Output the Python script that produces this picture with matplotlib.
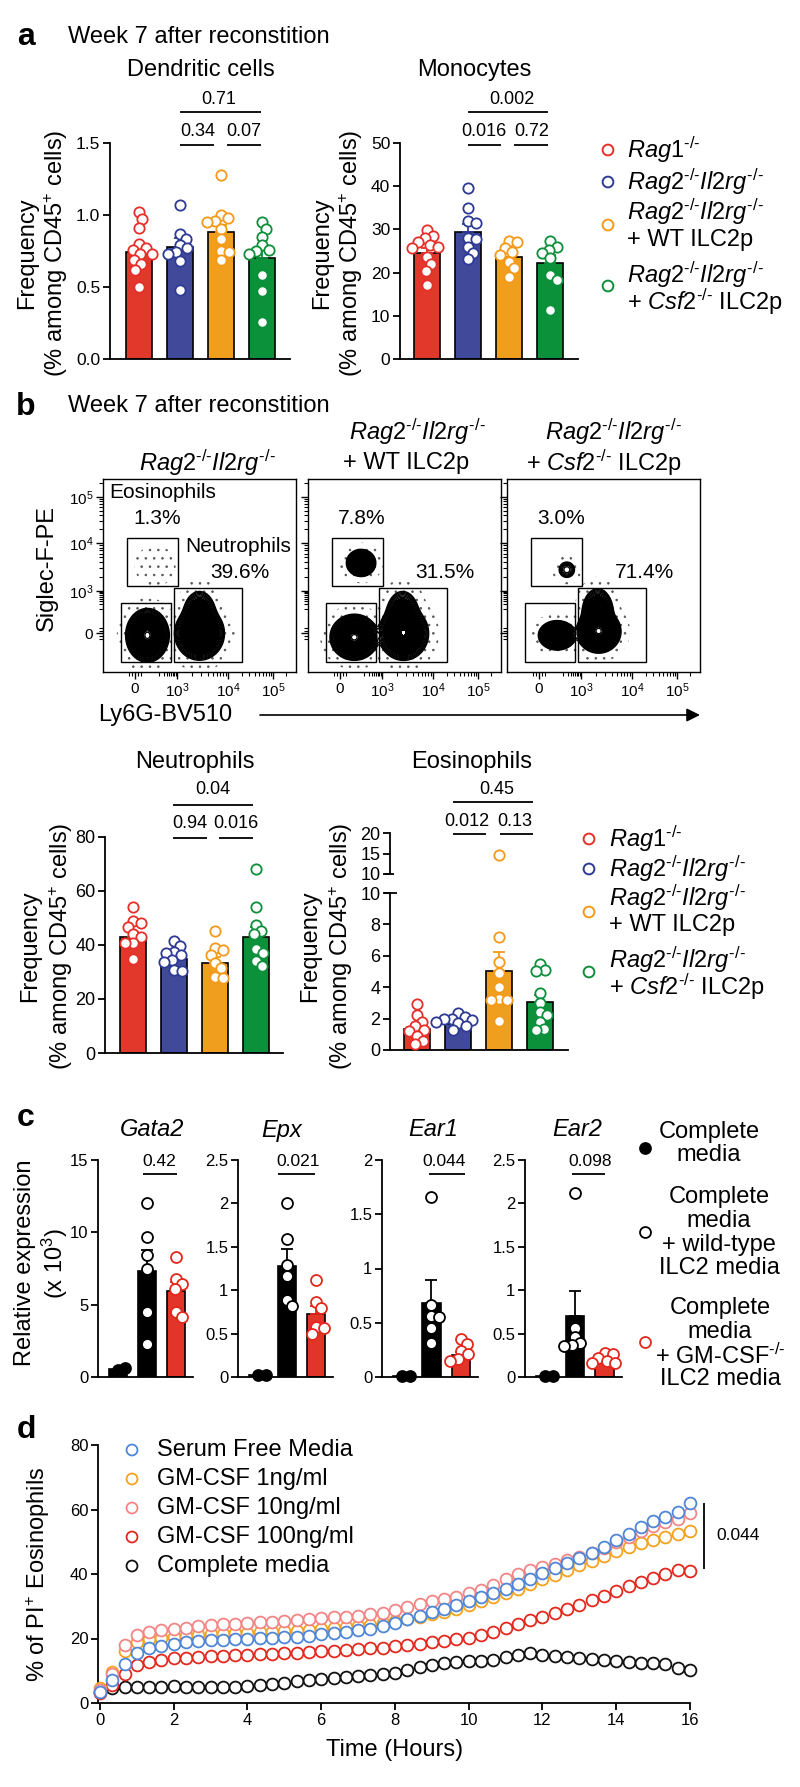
import numpy as np
import matplotlib
matplotlib.use("Agg")
import matplotlib.pyplot as plt
from matplotlib.patches import Rectangle

plt.rcParams["font.family"] = ["Liberation Sans", "DejaVu Sans"]
plt.rcParams["mathtext.fontset"] = "custom"
plt.rcParams["mathtext.rm"] = "Liberation Sans"
plt.rcParams["mathtext.it"] = "Liberation Sans:italic"
plt.rcParams["mathtext.bf"] = "Liberation Sans:bold"
plt.rcParams["hatch.linewidth"] = 0.6
plt.rcParams["hatch.color"] = "#555555"

# ---------------- data ----------------
FILL = ["#e2382b", "#414a9a", "#f09e1e", "#0a9139"]
EDGE = ["#e5302a", "#2e3a94", "#f39a1a", "#0e8f3b"]

# panel a
dc_pts = [[1.02, 0.97, 0.91, 0.80, 0.77, 0.76, 0.73, 0.73, 0.69, 0.66, 0.62, 0.50],
          [1.07, 0.87, 0.83, 0.79, 0.77, 0.74, 0.73, 0.68, 0.48],
          [1.28, 1.00, 0.98, 0.96, 0.95, 0.90, 0.83, 0.75, 0.74, 0.69],
          [0.95, 0.90, 0.85, 0.79, 0.76, 0.75, 0.73, 0.58, 0.47, 0.26]]
dc_mean = [0.745, 0.78, 0.88, 0.70]
dc_sem = [0.04, 0.06, 0.05, 0.065]

mono_pts = [[29.9, 28.5, 28.0, 27.0, 26.5, 26.0, 25.6, 23.7, 22.0, 20.4, 17.1],
            [39.5, 34.9, 32.0, 31.4, 28.0, 27.7, 26.0, 24.5, 23.1],
            [27.2, 27.0, 25.6, 24.8, 24.1, 22.5, 21.0, 18.9],
            [27.2, 26.0, 25.2, 24.5, 23.3, 19.4, 18.3, 11.3]]
mono_mean = [24.5, 29.5, 23.7, 22.2]
mono_sem = [1.1, 1.8, 1.0, 1.8]

# panel b
neut_pts = [[54.0, 48.9, 48.0, 46.5, 44.0, 43.0, 40.7, 40.7, 34.8],
            [41.4, 39.6, 37.4, 37.0, 36.3, 34.5, 33.7, 30.7, 30.4],
            [45.2, 38.9, 38.1, 36.3, 33.3, 31.5, 28.2, 27.7],
            [68.0, 54.0, 47.4, 45.2, 44.0, 38.5, 37.0, 34.0, 32.2]]
neut_mean = [43.0, 34.8, 33.5, 43.0]
neut_sem = [2.0, 1.3, 2.0, 3.6]

eos_pts = [[2.9, 2.2, 1.8, 1.5, 1.3, 1.2, 0.9, 0.6, 0.4],
           [2.35, 2.1, 2.0, 1.95, 1.9, 1.8, 1.7, 1.5, 1.3],
           [14.6, 7.2, 5.6, 4.9, 4.0, 3.25, 3.2, 3.2, 1.85],
           [5.5, 5.1, 5.05, 3.6, 3.0, 2.45, 2.2, 1.8, 1.35, 1.3]]
eos_mean = [1.35, 1.65, 5.05, 3.05]
eos_sem = [0.28, 0.12, 1.2, 0.45]

# flow populations: (centre x, centre y, sd x, sd y, weight) in box units
flow_pops = [
    [(0.23, 0.19, 0.034, 0.042, 1.0), (0.50, 0.20, 0.040, 0.043, 0.75),
     (0.50, 0.29, 0.030, 0.045, 0.22), (0.27, 0.55, 0.035, 0.035, 0.002)],
    [(0.24, 0.18, 0.038, 0.036, 1.0), (0.495, 0.20, 0.040, 0.043, 0.8),
     (0.49, 0.29, 0.030, 0.045, 0.22), (0.275, 0.565, 0.026, 0.024, 0.3)],
    [(0.26, 0.19, 0.032, 0.025, 0.45), (0.475, 0.21, 0.035, 0.034, 1.0),
     (0.47, 0.30, 0.028, 0.045, 0.3), (0.31, 0.53, 0.02, 0.02, 0.03)]]
flow_gates = [(0.124, 0.39, 0.445, 0.694), (0.093, 0.35, 0.052, 0.357), (0.37, 0.72, 0.052, 0.435)]
eos_pct = ["1.3%", "7.8%", "3.0%"]
neut_pct = ["39.6%", "31.5%", "71.4%"]

# panel c
c_genes = ["Gata2", "Epx", "Ear1", "Ear2"]
c_pts = [[[0.45, 0.65], [12.0, 9.7, 8.4, 7.5, 4.5, 2.3], [8.3, 6.8, 6.4, 6.1, 4.5, 4.15]],
         [[0.02, 0.02], [2.0, 1.59, 1.29, 1.16, 0.89, 0.82], [1.12, 0.86, 0.79, 0.58, 0.56, 0.5]],
         [[0.01, 0.01], [1.66, 0.66, 0.56, 0.55, 0.45, 0.31], [0.35, 0.3, 0.24, 0.21, 0.17, 0.15]],
         [[0.01, 0.01], [2.12, 0.56, 0.46, 0.39, 0.37, 0.36], [0.28, 0.26, 0.22, 0.19, 0.16, 0.16]]]
c_mean = [[0.55, 7.3, 5.95], [0.02, 1.28, 0.73], [0.01, 0.68, 0.2], [0.01, 0.70, 0.19]]
c_sem = [[0, 1.5, 0.65], [0, 0.19, 0.09], [0, 0.21, 0.03], [0, 0.29, 0.02]]
c_ymax = [15, 2.5, 2, 2.5]
c_ticks = [[0, 5, 10, 15], [0, 0.5, 1, 1.5, 2, 2.5], [0, 0.5, 1, 1.5, 2], [0, 0.5, 1, 1.5, 2, 2.5]]
c_pvals = ["0.42", "0.021", "0.044", "0.098"]

# panel d (every 20 min, 0-16 h)
hours = np.arange(49) / 3
serum_free = [3.5, 7.0, 12.0, 15.5, 17.0, 17.8, 18.4, 18.8, 19.1, 19.4, 19.6, 19.8, 20.0, 20.1, 20.3,
              20.5, 20.6, 20.9, 21.3, 21.6, 22.0, 22.5, 23.1, 23.8, 24.8, 25.9, 27.1, 28.2, 29.3, 30.4,
              31.6, 32.8, 34.0, 35.4, 36.9, 38.6, 40.3, 41.8, 43.4, 45.0, 46.5, 48.5, 50.5, 52.5, 54.5,
              56.3, 57.8, 59.3, 62.0]
gm_1 = [4.5, 9.5, 16.0, 18.8, 19.8, 20.3, 20.6, 20.9, 21.1, 21.3, 21.5, 21.6, 21.8, 21.9, 22.0,
        22.2, 22.4, 22.6, 22.9, 23.2, 23.5, 23.9, 24.3, 24.8, 25.4, 26.0, 26.7, 27.5, 28.3, 29.3,
        30.4, 31.5, 32.8, 34.0, 35.3, 36.8, 38.3, 39.8, 41.3, 42.7, 44.0, 45.5, 47.0, 48.3, 49.5,
        50.5, 51.5, 52.5, 53.3]
gm_10 = [4.0, 9.0, 18.0, 21.0, 22.0, 22.6, 23.0, 23.4, 23.8, 24.1, 24.4, 24.6, 24.8, 25.0, 25.2,
         25.5, 25.8, 26.1, 26.4, 26.6, 26.8, 27.1, 27.5, 28.0, 28.8, 29.8, 30.8, 31.6, 32.3, 33.0,
         34.0, 35.0, 36.5, 38.3, 40.0, 41.3, 42.3, 43.2, 44.2, 45.3, 46.5, 48.0, 49.8, 51.5, 53.3,
         55.0, 56.0, 57.2, 59.0]
gm_100 = [3.0, 5.5, 9.0, 11.8, 12.8, 13.4, 13.8, 14.1, 14.3, 14.5, 14.6, 14.8, 15.0, 15.1, 15.2,
          15.4, 15.6, 15.8, 16.0, 16.2, 16.4, 16.6, 16.9, 17.2, 17.6, 18.0, 18.4, 18.8, 19.2, 19.7,
          20.3, 21.0, 22.0, 23.2, 24.4, 25.6, 26.8, 27.9, 29.0, 30.3, 31.8, 33.3, 34.8, 36.2, 37.5,
          38.8, 40.0, 41.3, 40.8]
complete = [3.5, 4.5, 5.0, 5.0, 5.1, 5.1, 5.2, 5.1, 5.0, 5.0, 5.0, 5.0, 5.2, 5.5, 5.9,
            6.3, 6.7, 7.0, 7.3, 7.6, 8.0, 8.3, 8.6, 8.9, 9.3, 10.3, 11.2, 11.8, 12.3, 12.6,
            12.9, 13.0, 13.3, 14.3, 15.0, 15.4, 15.0, 14.6, 14.2, 13.8, 13.5, 13.2, 12.9, 12.6, 12.4,
            12.3, 12.0, 11.0, 10.3]
d_labels = ["Serum Free Media", "GM-CSF 1ng/ml", "GM-CSF 10ng/ml", "GM-CSF 100ng/ml", "Complete media"]
d_colors = ["#4f86d8", "#f5a21f", "#f38585", "#e3281d", "#111111"]

# ---------------- layout helpers (pixel coordinates) ----------------
W, H = 800, 1787
fig = plt.figure(figsize=(W / 100, H / 100), dpi=100)
ov = fig.add_axes([0, 0, 1, 1])
ov.set_xlim(0, W)
ov.set_ylim(H, 0)
ov.axis("off")
ov.set_zorder(10)

BIG = 17


def axpx(x0, y0, x1, y1):
    a = fig.add_axes([x0 / W, 1 - y1 / H, (x1 - x0) / W, (y1 - y0) / H])
    a.patch.set_alpha(0)
    return a


def T(x, y, s, size=BIG, **kw):
    kw.setdefault("ha", "center")
    kw.setdefault("va", "center")
    ov.text(x, y, s, fontsize=size, **kw)


def L(xs, ys, lw=1.3):
    ov.plot(xs, ys, color="black", lw=lw, solid_capstyle="butt")


def style(ax, size):
    for s in ["top", "right"]:
        ax.spines[s].set_visible(False)
    for s in ["left", "bottom"]:
        ax.spines[s].set_linewidth(1.3)
    ax.tick_params(direction="out", length=5, width=1.3, labelsize=size, pad=2)
    ax.set_xticks([])


def swarm(vals, ppy, ppx, d=8.0):
    placed, offs = [], []
    cands = [0.0] + [s * k * 0.5 for k in range(1, 60) for s in (1, -1)]
    for v in vals:
        y = v * ppy
        best = 0.0
        for c in cands:
            if all((c - px) ** 2 + (y - py) ** 2 >= d * d for px, py in placed):
                best = c
                break
        placed.append((best, y))
        offs.append(best / ppx)
    return np.array(offs)


def bars(ax, pts, means, sems, fcs, ecs, mfcs, width, xlim, ylim, ms=55):
    ax.set_xlim(*xlim)
    ax.set_ylim(*ylim)
    bb = ax.get_window_extent()
    ppx = bb.width / (xlim[1] - xlim[0])
    ppy = bb.height / (ylim[1] - ylim[0])
    for i in range(len(pts)):
        ax.bar(i, means[i], width, color=fcs[i], edgecolor="black", lw=1.2, zorder=2)
        if sems[i] > 0:
            ax.errorbar(i, means[i], yerr=[[0], [sems[i]]], fmt="none", ecolor=ecs[i],
                        elinewidth=1.3, capsize=4, capthick=1.3, zorder=3)
        v = np.array(pts[i])
        v = v[v <= ylim[1]]
        off = swarm(v, ppy, ppx)
        ax.scatter(i + off, v, s=ms, facecolor=mfcs[i], edgecolor=ecs[i], lw=1.3,
                   zorder=4, clip_on=False)


# ---------------- panel a ----------------
T(26, 37, "a", size=23, fontweight="bold")
T(68, 37, "Week 7 after reconstition", ha="left")
T(201, 70, "Dendritic cells")
T(474, 70, "Monocytes")

ax = axpx(110, 143, 290, 359)
style(ax, 12.5)
bars(ax, dc_pts, dc_mean, dc_sem, FILL, EDGE, ["white"] * 4, 0.63, (-0.7, 3.68), (0, 1.5))
ax.set_yticks([0, 0.5, 1.0, 1.5])
ax.set_yticklabels(["0.0", "0.5", "1.0", "1.5"])

ax = axpx(400, 143, 578, 359)
style(ax, 12.5)
bars(ax, mono_pts, mono_mean, mono_sem, FILL, EDGE, ["white"] * 4, 0.63, (-0.66, 3.68), (0, 50))
ax.set_yticks([0, 10, 20, 30, 40, 50])

for xl in (27, 322):
    T(xl, 253, "Frequency", rotation=90)
    T(xl + 29, 253, r"(% among CD45$^{+}$ cells)", rotation=90)

# brackets a
L([180, 214], [145, 145]); L([227, 261], [145, 145]); L([180, 261], [112, 112])
T(198, 131, "0.34", size=13); T(244, 131, "0.07", size=13); T(219, 100, "0.71", size=13)
L([468, 501], [145, 145]); L([514, 548], [145, 145]); L([468, 548], [112, 112])
T(484, 131, "0.016", size=13); T(532, 131, "0.72", size=13); T(512, 100, "0.002", size=13)

# legend a / b
group_lines = [[r"$\mathit{Rag1}^{\text{-/-}}$"],
               [r"$\mathit{Rag2}^{\text{-/-}}\mathit{Il2rg}^{\text{-/-}}$"],
               [r"$\mathit{Rag2}^{\text{-/-}}\mathit{Il2rg}^{\text{-/-}}$", "+ WT ILC2p"],
               [r"$\mathit{Rag2}^{\text{-/-}}\mathit{Il2rg}^{\text{-/-}}$",
                r"+ $\mathit{Csf2}^{\text{-/-}}$ ILC2p"]]


def group_legend(mx, tx, marks, rows):
    ov.scatter([mx] * 4, marks, s=60, facecolor="white", edgecolor=EDGE, lw=1.4)
    for lines, ys in zip(group_lines, rows):
        for s, y in zip(lines, ys):
            T(tx, y, s, ha="left")


group_legend(608, 627, [150, 182, 225, 286], [[150], [182], [212, 240], [275, 302]])

# ---------------- panel b flow ----------------
T(26, 407, "b", size=23, fontweight="bold")
T(68, 406, "Week 7 after reconstition", ha="left")

g = np.linspace(0, 1, 500)
U, V = np.meshgrid(g, g)
ymaj = [0.20, 0.42, 0.668, 0.907]
xmaj = [0.166, 0.383, 0.648, 0.88]


def minors(maj):
    m = []
    for a, b in [(maj[1], maj[2]), (maj[2], maj[3])]:
        m += [a + (b - a) * np.log10(k) for k in range(2, 10)]
    step = maj[3] - maj[2]
    m += [maj[3] + step * np.log10(k) for k in range(2, 10) if maj[3] + step * np.log10(k) < 0.99]
    m += [maj[1] - (maj[1] - maj[0]) * 0.6 * (1 - np.log10(k)) for k in range(2, 10)]
    m += [maj[0] + dd for dd in (-0.03, -0.015, 0.015, 0.03)]
    return m


boxes = [(103, 479, 296, 672), (308, 479, 501, 672), (507, 479, 700, 672)]
for bi, (x0, y0, x1, y1) in enumerate(boxes):
    ax = axpx(x0, y0, x1, y1)
    ax.set_xlim(0, 1)
    ax.set_ylim(0, 1)
    Z = np.zeros_like(U)
    for cx, cy, sx, sy, w in flow_pops[bi]:
        Z += w * np.exp(-((U - cx) ** 2 / (2 * sx ** 2) + (V - cy) ** 2 / (2 * sy ** 2)))
    Z /= Z.max()
    # sparse events around the populations
    ax.contourf(U, V, Z, levels=[2e-5, 0.004], colors="none", hatches=[".."])
    # dense contour core
    ax.contourf(U, V, Z, levels=[0.03, 0.8], colors="black")
    ax.contour(U, V, Z, levels=np.geomspace(0.004, 0.03, 7), colors="black", linewidths=1.0)
    ax.contour(U, V, Z, levels=[0.86, 0.93], colors="black", linewidths=0.9)
    for gx0, gx1, gy0, gy1 in flow_gates:
        ax.add_patch(Rectangle((gx0, gy0), gx1 - gx0, gy1 - gy0, fill=False, lw=1.0,
                               ec="black", zorder=5))
    for s in ax.spines.values():
        s.set_linewidth(1.0)
    ax.set_xticks(xmaj)
    ax.set_xticklabels(["0", r"$10^{3}$", r"$10^{4}$", r"$10^{5}$"])
    ax.set_yticks(ymaj)
    ax.set_yticklabels(["0", r"$10^{3}$", r"$10^{4}$", r"$10^{5}$"] if bi == 0 else [])
    ax.set_xticks(minors(xmaj), minor=True)
    ax.set_yticks(minors(ymaj), minor=True)
    ax.tick_params(which="major", direction="out", length=5, width=1.0, labelsize=11, pad=2)
    ax.tick_params(which="minor", direction="out", length=3, width=0.8)
    cx_e = x0 + (x1 - x0) * 0.28
    cx_n = x0 + (x1 - x0) * 0.71
    T(cx_e, 518, eos_pct[bi], size=15)
    T(cx_n, 573, neut_pct[bi], size=15)

T(109, 493, "Eosinophils", size=15, ha="left")
T(185, 547, "Neutrophils", size=15, ha="left")
T(207, 463, r"$\mathit{Rag2}^{\text{-/-}}\mathit{Il2rg}^{\text{-/-}}$")
T(417, 432, r"$\mathit{Rag2}^{\text{-/-}}\mathit{Il2rg}^{\text{-/-}}$")
T(406, 463, "+ WT ILC2p")
T(613, 432, r"$\mathit{Rag2}^{\text{-/-}}\mathit{Il2rg}^{\text{-/-}}$")
T(604, 463, r"+ $\mathit{Csf2}^{\text{-/-}}$ ILC2p")
T(47, 568, "Siglec-F-PE", rotation=90)
T(165, 715, "Ly6G-BV510")
ov.annotate("", xy=(700, 715), xytext=(260, 715),
            arrowprops=dict(arrowstyle="-|>", color="black", lw=1.2, mutation_scale=20,
                            shrinkA=0, shrinkB=0))

# ---------------- panel b bars ----------------
T(195, 762, "Neutrophils")
T(472, 762, "Eosinophils")

ax = axpx(105, 837, 283, 1053)
style(ax, 13)
bars(ax, neut_pts, neut_mean, neut_sem, FILL, EDGE, ["white"] * 4, 0.63, (-0.68, 3.66), (0, 80))
ax.set_yticks([0, 20, 40, 60, 80])

ax = axpx(390, 893, 568, 1050)
style(ax, 13)
bars(ax, eos_pts, eos_mean, eos_sem, FILL, EDGE, ["white"] * 4, 0.63, (-0.65, 3.67), (0, 10))
ax.set_yticks([0, 2, 4, 6, 8, 10])

axu = axpx(390, 833, 568, 874)
style(axu, 13)
axu.spines["bottom"].set_visible(False)
axu.set_xlim(-0.65, 3.67)
axu.set_ylim(10, 20)
axu.set_yticks([10, 15, 20])
for i, p in enumerate(eos_pts):
    hi = [v for v in p if v > 10]
    axu.scatter([i] * len(hi), hi, s=55, facecolor="white", edgecolor=EDGE[i], lw=1.3, zorder=4)
L([384, 397], [893, 893])
L([385, 394], [874, 874])

for xl in (30, 310):
    T(xl, 946, "Frequency", rotation=90)
    T(xl + 31, 946, r"(% among CD45$^{+}$ cells)", rotation=90)

L([173, 207], [838, 838]); L([219, 253], [838, 838]); L([173, 253], [805, 805])
T(190, 823, "0.94", size=13); T(236, 823, "0.016", size=13); T(213, 790, "0.04", size=13)
L([453, 486], [834, 834]); L([500, 533], [834, 834]); L([453, 533], [802, 802])
T(467, 821, "0.012", size=13); T(515, 821, "0.13", size=13); T(497, 790, "0.45", size=13)

group_legend(589, 609, [839, 869, 912, 972], [[839], [869], [898, 925], [960, 987]])

# ---------------- panel c ----------------
T(26, 1118, "c", size=23, fontweight="bold")
c_axes = [(98, 193), (238, 333), (382, 478), (525, 622)]
c_title_x = [152, 282, 433, 577]
c_br = [(143, 177, 159), (278, 315, 298), (429, 465, 444), (572, 605, 590)]
for k in range(4):
    x0, x1 = c_axes[k]
    ax = axpx(x0, 1160, x1, 1377)
    style(ax, 12)
    bars(ax, c_pts[k], c_mean[k], c_sem[k], ["black", "black", "#e3342a"],
         ["black", "black", "#e3281d"], ["black", "white", "white"], 0.62,
         (-0.69, 2.59), (0, c_ymax[k]), ms=62)
    ax.set_yticks(c_ticks[k])
    ax.set_yticklabels([f"{t:g}" for t in c_ticks[k]])
    T(c_title_x[k], 1130, c_genes[k], style="italic")
    a0, a1, tx = c_br[k]
    L([a0, a1], [1174, 1174])
    T(tx, 1162, c_pvals[k], size=12.5)

T(25, 1263, "Relative expression", rotation=90)
T(55, 1263, r"(x 10$^{3}$)", rotation=90)

ov.scatter([645], [1148], s=62, facecolor="black", edgecolor="black", lw=1.3)
ov.scatter([645], [1232], s=62, facecolor="white", edgecolor="black", lw=1.3)
ov.scatter([645], [1342], s=62, facecolor="white", edgecolor="#e3281d", lw=1.3)
T(709, 1132, "Complete"); T(709, 1155, "media")
for s, y in zip(["Complete", "media", "+ wild-type", "ILC2 media"], [1197, 1221, 1245, 1268]):
    T(719, y, s)
for s, y in zip(["Complete", "media", r"+ GM-CSF$^{\text{-/-}}$", "ILC2 media"], [1308, 1332, 1356, 1379]):
    T(720, y, s)

# ---------------- panel d ----------------
T(26, 1430, "d", size=23, fontweight="bold")
ax = axpx(98, 1445, 690, 1703)
for s in ["top", "right"]:
    ax.spines[s].set_visible(False)
for s in ["left", "bottom"]:
    ax.spines[s].set_linewidth(1.3)
ax.tick_params(direction="out", length=5, width=1.3, labelsize=12, pad=2)
ax.set_xlim(-0.054, 16)
ax.set_ylim(0, 80)
ax.set_xticks(range(0, 17, 2))
ax.set_yticks(range(0, 81, 20))
series = [serum_free, gm_1, gm_10, gm_100, complete]
for idx in [4, 3, 1, 2, 0]:
    ax.plot(hours, series[idx], "o", mfc="white", mec=d_colors[idx], ms=8.5, mew=1.3,
            clip_on=False, zorder=3)
ax.errorbar(hours[-1], gm_100[-1], yerr=1.5, fmt="none", ecolor=d_colors[3], elinewidth=1.3,
            capsize=3, zorder=2)
T(38, 1574, r"% of PI$^{+}$ Eosinophils", rotation=90)
T(395, 1750, "Time (Hours)")

leg_y = [1450, 1479, 1508, 1537, 1566]
ov.scatter([132] * 5, leg_y, s=62, facecolor="white", edgecolor=d_colors, lw=1.3)
for s, y in zip(d_labels, leg_y):
    T(157, y, s, ha="left")

L([704, 704], [1503, 1569])
T(716, 1536, "0.044", size=12.5, ha="left")

fig.savefig("out.png", dpi=100)
